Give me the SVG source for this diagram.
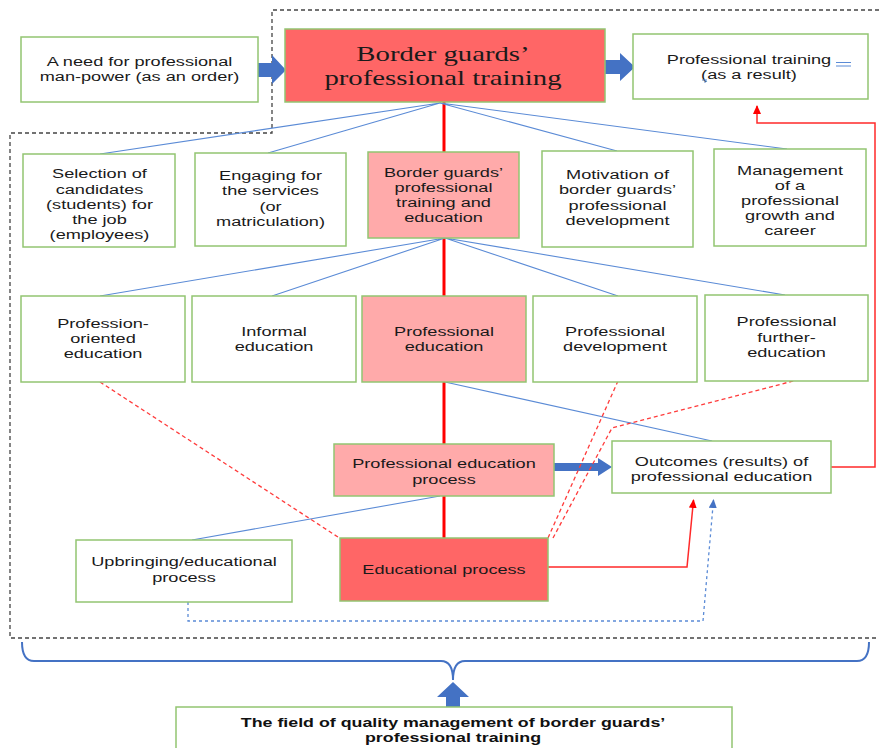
<svg xmlns="http://www.w3.org/2000/svg" width="879" height="748" viewBox="0 0 879 748">
<style>
.box{fill:#ffffff;stroke:#93c572;stroke-width:1.5}
.red{fill:#ff6666;stroke:#93c572;stroke-width:1.5}
.pink{fill:#ffaaaa;stroke:#93c572;stroke-width:1.5}
.t{font-family:"Liberation Sans",Arial,sans-serif;font-size:13.5px;fill:#1a1a1a;text-anchor:middle}
.title{font-family:"Liberation Serif","Times New Roman",serif;font-size:21px;fill:#1a1a1a;text-anchor:middle}
.bt{font-family:"Liberation Sans",Arial,sans-serif;font-size:13.5px;font-weight:bold;fill:#111;text-anchor:middle}
.bl{fill:none;stroke:#5b8bd6;stroke-width:1.1}
.rl{fill:none;stroke:#ff0000;stroke-width:3}
.rd{fill:none;stroke:#ff3b3b;stroke-width:1.3;stroke-dasharray:4,3}
.ra{fill:none;stroke:#ff2a2a;stroke-width:1.5}
.bd{fill:none;stroke:#5b8bd6;stroke-width:1.3;stroke-dasharray:3,3}
.ba{fill:#4472c4}
.outline{fill:none;stroke:#444;stroke-width:1.3;stroke-dasharray:4,3}
</style>
<defs>
<marker id="rh" markerUnits="userSpaceOnUse" markerWidth="10" markerHeight="8" refX="8" refY="4" orient="auto" viewBox="0 0 10 8">
<path d="M0,0 L9,4 L0,8 Z" fill="#ff0000"/>
</marker>
<marker id="bh" markerUnits="userSpaceOnUse" markerWidth="10" markerHeight="8" refX="8" refY="4" orient="auto" viewBox="0 0 10 8">
<path d="M0,0 L9,4 L0,8 Z" fill="#4472c4"/>
</marker>
</defs>
<rect width="879" height="748" fill="#ffffff"/>

<path class="outline" d="M879,10 L272,10 L272,133 L10,133 L10,638 L879,638"/>

<g id="connectors">
<polygon class="ba" points="258,63 272,63 272,55 286,70 272,84 272,77 258,77"/>
<polygon class="ba" points="605,60 620,60 620,53 635,67 620,81 620,74 605,74"/>
<polygon class="ba" points="554,463 598,463 598,458 612,467 598,476 598,471 554,471"/>
<line class="rl" x1="444" y1="102" x2="444" y2="152"/>
<line class="rl" x1="444" y1="238" x2="444" y2="296"/>
<line class="rl" x1="444" y1="382" x2="444" y2="444"/>
<line class="rl" x1="444" y1="496" x2="444" y2="538"/>
<path class="bl" d="M440,103 L100,154 M440,103 L268,153 M440,103 L617,151 M440,103 L787,149"/>
<path class="bl" d="M445,238 L100,296 M445,238 L272,296 M445,238 L618,296 M445,238 L785,295"/>
<path class="bl" d="M445,382 L712,441"/>
<path class="bl" d="M440,496 L192,540"/>
<path class="rd" d="M100,382 L341,539"/>
<path class="rd" d="M548,538 L618,381"/>
<path class="rd" d="M553,538 L612,428 L797,380"/>
<path class="ra" d="M548,567 L687,567 L693.5,500" marker-end="url(#rh)"/>
<path class="ra" d="M831,467 L875,467 L875,123 L757,123 L757,106" marker-end="url(#rh)" stroke="#ff5050"/>
<path class="bd" d="M188,602 L188,621 L703,621 L713.5,500" marker-end="url(#bh)"/>
<path d="M22,642 Q22,661 34,661 L441,661 Q453,661 453,680 Q453,661 465,661 L857,661 Q869,661 869,642" fill="none" stroke="#4472c4" stroke-width="2"/>
<polygon class="ba" points="453,682 469,697 460,697 460,707 446,707 446,697 437,697"/>
</g>

<g id="need">
<rect class="box" x="21" y="37" width="237" height="65"/>
<text class="t" transform="matrix(1.345 0 0 1 139.5 0)"><tspan x="0" y="66.5">A need for professional</tspan><tspan x="0" y="81.5">man-power (as an order)</tspan></text>
</g>

<g id="main">
<rect class="red" x="285" y="29" width="320" height="73"/>
<text class="title" transform="matrix(1.37 0 0 1 443 0)"><tspan x="0" y="61.5">Border guards’</tspan><tspan x="0" y="85">professional training</tspan></text>
</g>

<g id="result">
<rect class="box" x="633" y="34" width="235" height="65"/>
<text class="t" transform="matrix(1.345 0 0 1 749 0)"><tspan x="0" y="64">Professional training</tspan><tspan x="0" y="79">(as a result)</tspan></text>
<path d="M836,62.5 L851,62.5 M836,66 L851,66" stroke="#5b8bd6" stroke-width="1"/>
<path d="M702,80 L707,80 M704,82 L706,82" stroke="#5b8bd6" stroke-width="1"/>
</g>

<g id="selection">
<rect class="box" x="23" y="154" width="152" height="93"/>
<text class="t" transform="matrix(1.345 0 0 1 99.5 0)"><tspan x="0" y="178.5">Selection of</tspan><tspan x="0" y="194">candidates</tspan><tspan x="0" y="209">(students) for</tspan><tspan x="0" y="224">the job</tspan><tspan x="0" y="239">(employees)</tspan></text>
</g>

<g id="engaging">
<rect class="box" x="195" y="153" width="151" height="93"/>
<text class="t" transform="matrix(1.345 0 0 1 270.5 0)"><tspan x="0" y="180">Engaging for</tspan><tspan x="0" y="195.5">the services</tspan><tspan x="0" y="211">(or</tspan><tspan x="0" y="226.5">matriculation)</tspan></text>
</g>

<g id="bgpte">
<rect class="pink" x="368" y="152" width="151" height="86"/>
<text class="t" transform="matrix(1.345 0 0 1 443.5 0)"><tspan x="0" y="177.5">Border guards’</tspan><tspan x="0" y="192.5">professional</tspan><tspan x="0" y="207.5">training and</tspan><tspan x="0" y="222.5">education</tspan></text>
</g>

<g id="motivation">
<rect class="box" x="542" y="151" width="151" height="96"/>
<text class="t" transform="matrix(1.345 0 0 1 617.5 0)"><tspan x="0" y="179">Motivation of</tspan><tspan x="0" y="194.5">border guards’</tspan><tspan x="0" y="210">professional</tspan><tspan x="0" y="225.5">development</tspan></text>
</g>

<g id="management">
<rect class="box" x="714" y="149" width="152" height="97"/>
<text class="t" transform="matrix(1.345 0 0 1 790 0)"><tspan x="0" y="175">Management</tspan><tspan x="0" y="190">of a</tspan><tspan x="0" y="205">professional</tspan><tspan x="0" y="220">growth and</tspan><tspan x="0" y="235">career</tspan></text>
</g>

<g id="profOriented">
<rect class="box" x="21" y="296" width="164" height="86"/>
<text class="t" transform="matrix(1.345 0 0 1 103 0)"><tspan x="0" y="328.5">Profession-</tspan><tspan x="0" y="343.5">oriented</tspan><tspan x="0" y="358.5">education</tspan></text>
</g>

<g id="informal">
<rect class="box" x="192" y="296" width="164" height="86"/>
<text class="t" transform="matrix(1.345 0 0 1 274 0)"><tspan x="0" y="336.5">Informal</tspan><tspan x="0" y="351.5">education</tspan></text>
</g>

<g id="profEducation">
<rect class="pink" x="362" y="296" width="164" height="86"/>
<text class="t" transform="matrix(1.345 0 0 1 444 0)"><tspan x="0" y="336.5">Professional</tspan><tspan x="0" y="351.5">education</tspan></text>
</g>

<g id="profDevelopment">
<rect class="box" x="533" y="296" width="164" height="86"/>
<text class="t" transform="matrix(1.345 0 0 1 615 0)"><tspan x="0" y="336">Professional</tspan><tspan x="0" y="351">development</tspan></text>
</g>

<g id="further">
<rect class="box" x="705" y="295" width="163" height="86"/>
<text class="t" transform="matrix(1.345 0 0 1 786.5 0)"><tspan x="0" y="326.5">Professional</tspan><tspan x="0" y="342">further-</tspan><tspan x="0" y="357">education</tspan></text>
</g>

<g id="pep">
<rect class="pink" x="334" y="444" width="220" height="52"/>
<text class="t" transform="matrix(1.345 0 0 1 444 0)"><tspan x="0" y="468.5">Professional education</tspan><tspan x="0" y="484">process</tspan></text>
</g>

<g id="outcomes">
<rect class="box" x="612" y="441" width="219" height="52"/>
<text class="t" transform="matrix(1.345 0 0 1 721.5 0)"><tspan x="0" y="466">Outcomes (results) of</tspan><tspan x="0" y="481.5">professional education</tspan></text>
</g>

<g id="upbringing">
<rect class="box" x="76" y="540" width="216" height="62"/>
<text class="t" transform="matrix(1.345 0 0 1 184 0)"><tspan x="0" y="566.5">Upbringing/educational</tspan><tspan x="0" y="582">process</tspan></text>
</g>

<g id="educational">
<rect class="red" x="340" y="538" width="208" height="63"/>
<text class="t" transform="matrix(1.345 0 0 1 444 0)"><tspan x="0" y="574">Educational process</tspan></text>
</g>

<g id="field">
<rect class="box" x="176" y="707" width="556" height="50"/>
<text class="bt" transform="matrix(1.32 0 0 1 453 0)"><tspan x="0" y="726.5">The field of quality management of border guards’</tspan><tspan x="0" y="742">professional training</tspan></text>
</g>
</svg>
